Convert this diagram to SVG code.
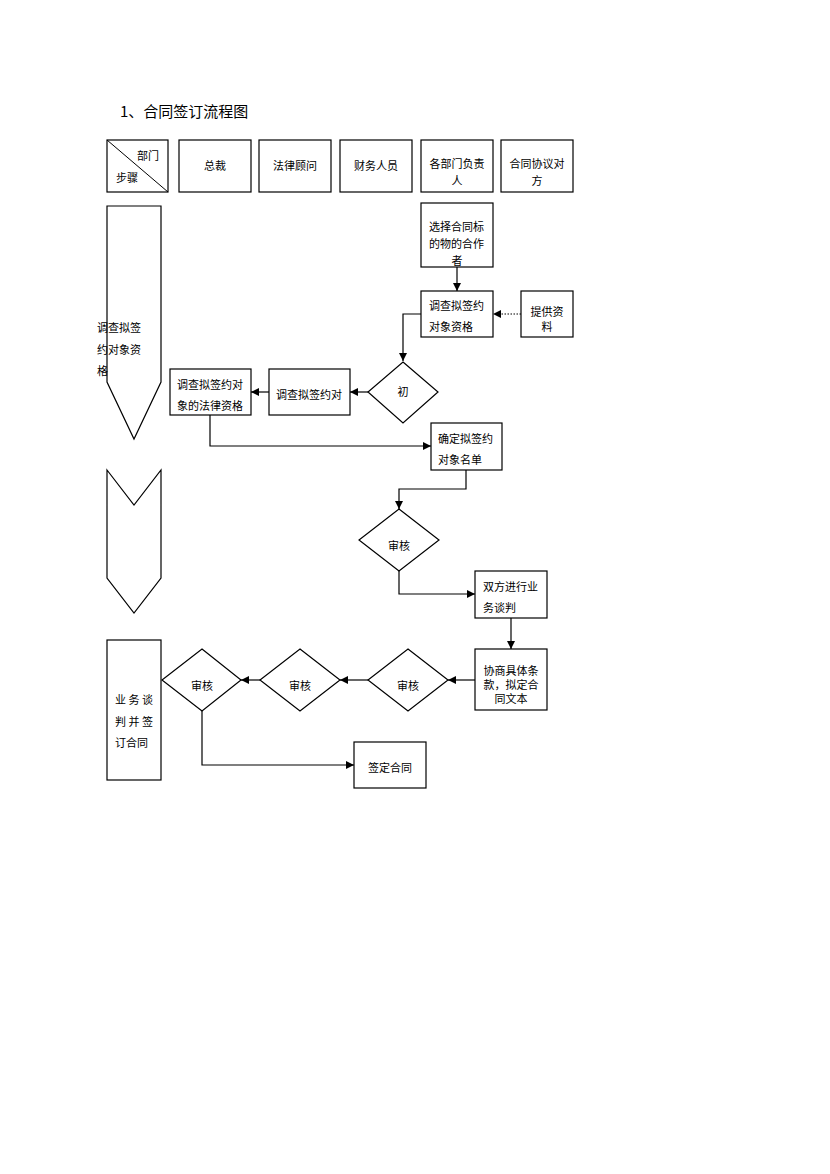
<svg xmlns="http://www.w3.org/2000/svg" width="830" height="1174" viewBox="0 0 830 1174">
<defs>
<marker id="ah" viewBox="0 0 10 10" refX="10" refY="5" markerWidth="8" markerHeight="8" markerUnits="userSpaceOnUse" orient="auto"><path d="M0,0L10,5L0,10Z" fill="#000"/></marker>
<style>
.s{fill:#fff;stroke:#000;stroke-width:1.2}
.c{fill:none;stroke:#000;stroke-width:1.2;marker-end:url(#ah)}
text{font-family:"Noto Sans CJK SC","Liberation Sans",sans-serif;font-size:11px;fill:#000}
.m{text-anchor:middle}
</style>
</defs>
<rect width="830" height="1174" fill="#fff"/>
<text x="120" y="117" style="font-size:15px">1、合同签订流程图</text>
<g id="hdr0"><rect class="s" x="107" y="140" width="61" height="52"/><line x1="107" y1="140" x2="168" y2="192" stroke="#000"/><text x="137" y="160">部门</text><text x="116" y="182">步骤</text></g>
<g id="hdr1"><rect class="s" x="179" y="140" width="72" height="52"/><text class="m" x="215" y="170">总裁</text></g>
<g id="hdr2"><rect class="s" x="259" y="140" width="72" height="52"/><text class="m" x="295" y="170">法律顾问</text></g>
<g id="hdr3"><rect class="s" x="340" y="140" width="72" height="52"/><text class="m" x="376" y="170">财务人员</text></g>
<g id="hdr4"><rect class="s" x="421" y="140" width="72" height="52"/><text class="m" x="457" y="168">各部门负责</text><text class="m" x="457" y="185">人</text></g>
<g id="hdr5"><rect class="s" x="501" y="140" width="72" height="52"/><text class="m" x="537" y="168">合同协议对</text><text class="m" x="537" y="185">方</text></g>
<g id="step1"><path class="s" d="M107,206H161V382L134,439L107,382Z"/><text x="97" y="332">调查拟签</text><text x="97" y="354">约对象资</text><text x="97" y="375">格</text></g>
<g id="step2"><path class="s" d="M107,470L134,505L161,470V578L134,613L107,578Z"/></g>
<g id="step3"><rect class="s" x="107" y="640" width="54" height="140"/><text x="115" y="704">业 务 谈</text><text x="115" y="726">判 并 签</text><text x="115" y="747">订合同</text></g>
<g id="conn">
<line class="c" x1="457" y1="267" x2="457" y2="291"/>
<line x1="521" y1="314" x2="497" y2="314" stroke="#000" stroke-dasharray="1.5,1.5"/><path d="M493,314L501,310V318Z"/>
<polyline class="c" points="421,314 403,314 403,361"/>
<line class="c" x1="368" y1="392" x2="350" y2="392"/>
<line class="c" x1="269" y1="392" x2="251" y2="392"/>
<polyline class="c" points="210,415 210,446 431,446"/>
<polyline class="c" points="466,470 466,489 399,489 399,509"/>
<polyline class="c" points="399,571 399,594 475,594"/>
<line class="c" x1="511" y1="618" x2="511" y2="649"/>
<line class="c" x1="475" y1="680" x2="448" y2="680"/>
<line class="c" x1="368" y1="680" x2="340" y2="680"/>
<line class="c" x1="260" y1="680" x2="241" y2="680"/>
<polyline class="c" points="202,711 202,765 354,765"/>
</g>
<g id="n1"><rect class="s" x="421" y="203" width="72" height="64"/><text x="429" y="231">选择合同标</text><text x="429" y="248">的物的合作</text><text class="m" x="457" y="265">者</text></g>
<g id="n2"><rect class="s" x="421" y="291" width="72" height="46"/><text x="429" y="310">调查拟签约</text><text x="429" y="331">对象资格</text></g>
<g id="n3"><rect class="s" x="521" y="291" width="52" height="46"/><text class="m" x="547" y="316">提供资</text><text class="m" x="547" y="331">料</text></g>
<g id="d1"><path class="s" d="M403,362L438,392L403,423L368,392Z"/><text class="m" x="403" y="396">初</text></g>
<g id="n4"><rect class="s" x="269" y="369" width="81" height="46"/><text class="m" x="309" y="399">调查拟签约对</text></g>
<g id="n5"><rect class="s" x="170" y="369" width="81" height="46"/><text x="177" y="389">调查拟签约对</text><text x="177" y="410">象的法律资格</text></g>
<g id="n6"><rect class="s" x="431" y="423" width="71" height="47"/><text x="438" y="443">确定拟签约</text><text x="438" y="464">对象名单</text></g>
<g id="d2"><path class="s" d="M399,509L439,540L399,571L359,540Z"/><text class="m" x="399" y="550">审核</text></g>
<g id="n7"><rect class="s" x="475" y="571" width="72" height="47"/><text x="483" y="591">双方进行业</text><text x="483" y="612">务谈判</text></g>
<g id="n8"><rect class="s" x="475" y="649" width="72" height="61"/><text class="m" x="511" y="675">协商具体条</text><text class="m" x="511" y="689">款，拟定合</text><text class="m" x="511" y="703">同文本</text></g>
<g id="d3"><path class="s" d="M408,649L448,680L408,711L368,680Z"/><text class="m" x="408" y="690">审核</text></g>
<g id="d4"><path class="s" d="M300,649L340,680L300,711L260,680Z"/><text class="m" x="300" y="690">审核</text></g>
<g id="d5"><path class="s" d="M202,649L241,680L202,711L162,680Z"/><text class="m" x="202" y="690">审核</text></g>
<g id="n9"><rect class="s" x="354" y="742" width="72" height="46"/><text class="m" x="390" y="772">签定合同</text></g>
</svg>
